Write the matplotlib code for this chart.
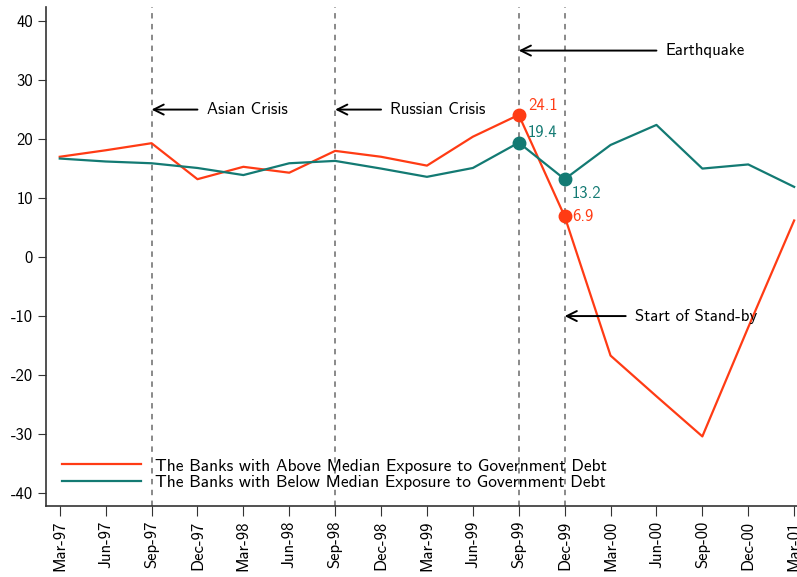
import matplotlib
matplotlib.use("Agg")
import matplotlib.pyplot as plt
import numpy as np

plt.rcParams['font.family'] = ['cmss10', 'DejaVu Sans']
plt.rcParams['axes.unicode_minus'] = False
plt.rcParams['axes.formatter.use_mathtext'] = False

# quarterly dates
quarters = ["Mar-97", "Jun-97", "Sep-97", "Dec-97", "Mar-98", "Jun-98", "Sep-98", "Dec-98",
            "Mar-99", "Jun-99", "Sep-99", "Dec-99", "Mar-00", "Jun-00", "Sep-00", "Dec-00", "Mar-01"]

# banks above median exposure to government debt
above = [17.0, 18.1, 19.3, 13.2, 15.3, 14.3, 18.0, 17.0,
         15.5, 20.4, 24.1, 6.9, -16.7, -23.6, -30.4, -11.9, 6.2]
# banks below median exposure to government debt
below = [16.7, 16.2, 15.9, 15.1, 13.9, 15.9, 16.3, 15.0,
         13.6, 15.1, 19.4, 13.2, 19.0, 22.4, 15.0, 15.7, 11.9]

# events (quarter, arrow height, text)
events = [("Sep-97", 25, "Asian Crisis"), ("Sep-98", 25, "Russian Crisis"),
          ("Sep-99", 35, "Earthquake"), ("Dec-99", -10, "Start of Stand-by")]
arrow_len = [1.0, 1.0, 3.0, 1.33]

ytick_vals = [-40, -30, -20, -10, 0, 10, 20, 30, 40]
ytick_labels = ["-40", "-30", "-20", "-10", "0", "10", "20", "30", "40"]

lab_above = "The Banks with Above Median Exposure to Government Debt"
lab_below = "The Banks with Below Median Exposure to Government Debt"

red = "#ff3b14"
teal = "#137a73"

fig = plt.figure(figsize=(7.97, 5.77), dpi=100)
ax = fig.add_axes([0.0577, 0.123, 0.956, 0.865])

x = np.arange(len(quarters))
ax.plot(x, above, color=red, lw=1.6, label=lab_above)
ax.plot(x, below, color=teal, lw=1.6, label=lab_below)

# vertical event lines and arrows
for (q, yv, txt), L in zip(events, arrow_len):
    xi = quarters.index(q)
    ax.axvline(xi, color="#808080", ls=(0, (3, 3)), lw=1.3, zorder=0)
    ax.annotate("", xy=(xi, yv), xytext=(xi + L, yv),
                arrowprops=dict(arrowstyle="->", color="black", lw=1.4,
                                mutation_scale=18, shrinkA=0, shrinkB=0))
    ax.text(xi + L + 0.2, yv, txt, fontsize=12, va="center", ha="left")

# highlighted points
i1 = quarters.index("Sep-99")
i2 = quarters.index("Dec-99")
ax.plot([i1, i2], [above[i1], above[i2]], "o", color=red, ms=9)
ax.plot([i1, i2], [below[i1], below[i2]], "o", color=teal, ms=9)
ax.annotate(f"{above[i1]:.1f}", (i1, above[i1]), xytext=(9, 9), textcoords="offset pixels",
            color=red, fontsize=12, va="center")
ax.annotate(f"{below[i1]:.1f}", (i1, below[i1]), xytext=(9, 10), textcoords="offset pixels",
            color=teal, fontsize=12, va="center")
ax.annotate(f"{below[i2]:.1f}", (i2, below[i2]), xytext=(7, -14), textcoords="offset pixels",
            color=teal, fontsize=12, va="center")
ax.annotate(f"{above[i2]:.1f}", (i2, above[i2]), xytext=(8, 0), textcoords="offset pixels",
            color=red, fontsize=12, va="center")

ax.set_xlim(-0.3, 16.3)
ax.set_ylim(-42.2, 42.4)
ax.set_xticks(x)
ax.set_xticklabels(quarters, rotation=90, fontsize=12)
ax.set_yticks(ytick_vals)
ax.set_yticklabels(ytick_labels, fontsize=12)
ax.tick_params(axis="y", length=6, color="#333333")
ax.tick_params(axis="x", length=7, color="#333333")
for s in ["top", "right"]:
    ax.spines[s].set_visible(False)
for s in ["left", "bottom"]:
    ax.spines[s].set_color("#333333")
    ax.spines[s].set_linewidth(1.2)

ax.legend(loc="lower left", bbox_to_anchor=(0.0, 0.0), frameon=False, fontsize=12.5,
          handlelength=4.6, labelspacing=0.1, handletextpad=0.8)

fig.savefig("out.png", dpi=100)
